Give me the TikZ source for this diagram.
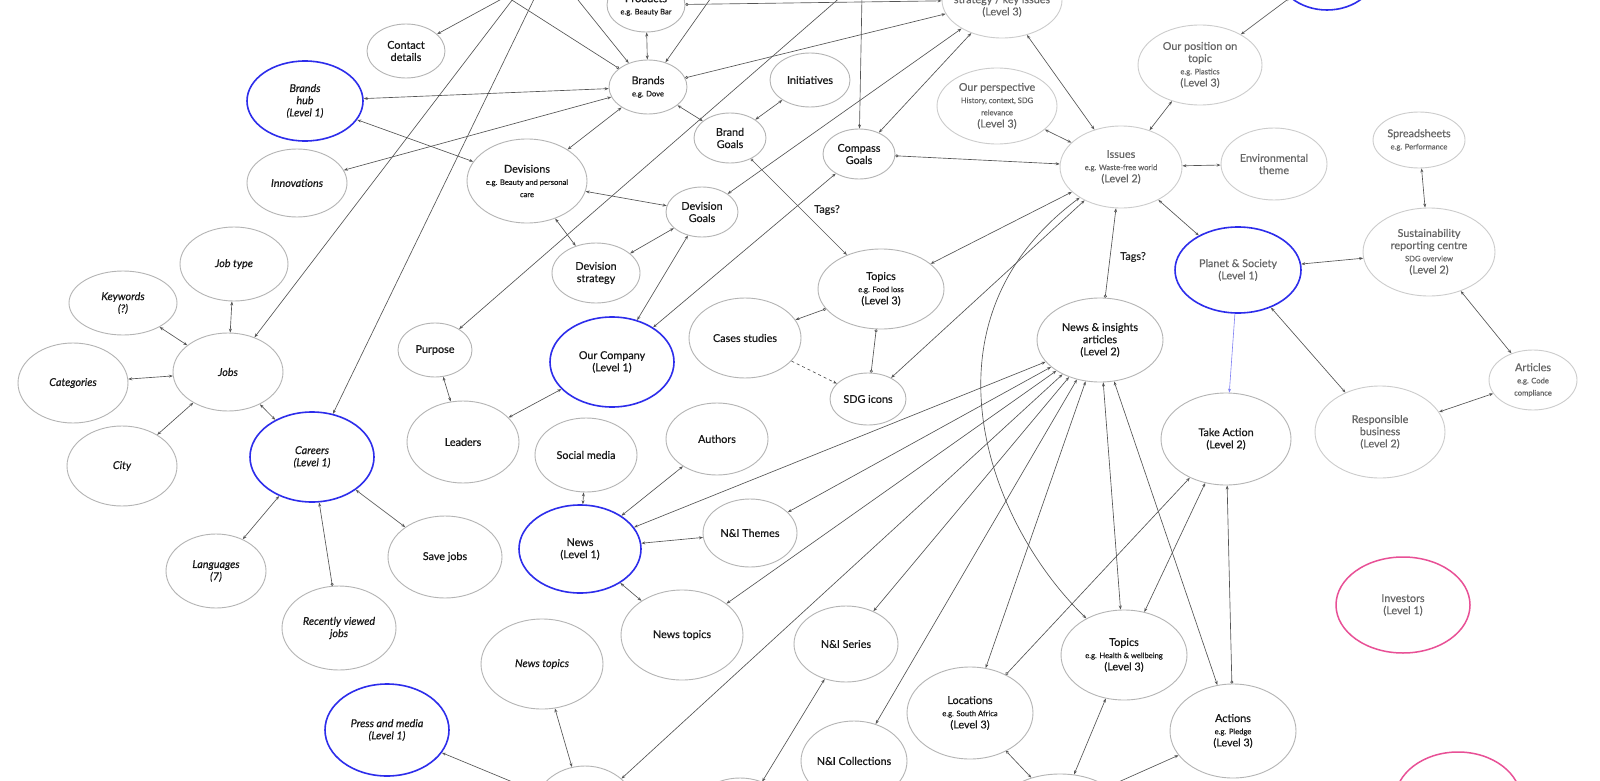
\documentclass[tikz,border=0pt]{standalone}
\usepackage{fontspec}
\setmainfont{Lato}[FakeBold=0.5]
\usetikzlibrary{shapes.geometric,arrows.meta}
\definecolor{lvlblue}{RGB}{45,45,235}
\definecolor{lvlpink}{RGB}{232,80,150}
\definecolor{edgecol}{RGB}{85,85,85}
\definecolor{ring}{RGB}{180,180,180}
\newcommand\mf{\fontsize{10.8}{12.2}\selectfont}
\newcommand\eg{\fontsize{7.6}{9}\selectfont}
\begin{document}
\begin{tikzpicture}[x=1pt,y=-1pt,
 ov/.style={ellipse,draw=ring,line width=0.9pt,inner xsep=-8pt,inner ysep=-4pt,align=center,font=\mf,text=black!90},
 sz/.style 2 args={minimum width=#1pt,minimum height=#2pt},
 lvl/.style={draw=lvlblue,line width=1.6pt},
 pk/.style={draw=lvlpink,line width=1.5pt},
 fd/.style={text=black!60,draw=black!20},
 sl/.style={font=\mf\itshape},
 cn/.style={draw=edgecol,line width=0.65pt},
 ee/.style={cn,{Stealth[length=4pt,width=3pt]}-{Stealth[length=4pt,width=3pt]}},
 oe/.style={cn,{Circle[open,length=3pt,width=3pt]}-{Stealth[length=4pt,width=3pt]}},
 eo/.style={cn,{Stealth[length=4pt,width=3pt]}-{Circle[open,length=3pt,width=3pt]}},
 te/.style={cn,-{Stealth[length=4pt,width=3pt]}},
 lab/.style={font=\mf,text=black!85,inner sep=1pt}
]
\useasboundingbox (0,0) rectangle (1600,781);
\fill[white] (0,0) rectangle (1600,781);
\clip (0,0) rectangle (1600,781);

% ---------- nodes ----------
\node[ov,lvl,sl,sz={116}{80}] (bhub) at (305,101) {Brands\\hub\\(Level 1)};
\node[ov,sl,sz={100}{68}] (innov) at (297,183) {Innovations};
\node[ov,sz={78}{54}] (contact) at (406,51) {Contact\\details};
\node[ov,sz={78}{54}] (products) at (646,5) {Products\\{\eg e.g. Beauty Bar}};
\node[ov,sz={78}{54}] (brands) at (648,87) {Brands\\{\eg e.g. Dove}};
\node[ov,sz={80}{54}] (initiatives) at (810,80) {Initiatives};
\node[ov,sz={72}{50}] (bgoals) at (730,138) {Brand\\Goals};
\node[ov,sz={120}{84}] (devisions) at (527,181) {Devisions\\{\eg e.g. Beauty and personal}\\{\eg care}};
\node[ov,sz={72}{50}] (dgoals) at (702,212) {Devision\\Goals};
\node[ov,sz={88}{60}] (dstrat) at (596,273) {Devision\\strategy};
\node[ov,sz={72}{50}] (compass) at (859,154) {Compass\\Goals};
\node[ov,fd,sz={120}{76}] (topl3) at (1002,0) {Sustainability\\strategy / key issues\\(Level 3)};
\node[ov,fd,sz={120}{76}] (persp) at (997,106) {Our perspective\\{\eg History, context, SDG}\\{\eg relevance}\\(Level 3)};
\node[ov,fd,sz={122}{82}] (issues) at (1121,167) {Issues\\{\eg e.g. Waste-free world}\\(Level 2)};
\node[ov,fd,sz={124}{80}] (position) at (1200,65) {Our position on\\topic\\{\eg e.g. Plastics}\\(Level 3)};
\node[ov,lvl,sz={100}{80}] (topblue) at (1327,-30) {};
\node[ov,fd,sz={106}{72}] (envtheme) at (1274,164) {Environmental\\theme};
\node[ov,fd,sz={92}{56}] (spread) at (1419,140) {Spreadsheets\\{\eg e.g. Performance}};
\node[ov,fd,sz={132}{88}] (src) at (1429,252) {Sustainability\\reporting centre\\{\eg SDG overview}\\(Level 2)};
\node[ov,lvl,sz={126}{86},text=black!60] (planet) at (1238,270) {Planet \& Society\\(Level 1)};
\node[ov,fd,sz={88}{60}] (articles) at (1533,380) {Articles\\{\eg e.g. Code}\\{\eg compliance}};
\node[ov,fd,sz={130}{92}] (resp) at (1380,432) {Responsible\\business\\(Level 2)};
\node[ov,sz={130}{92}] (takeaction) at (1226,439) {Take Action\\(Level 2)};
\node[ov,sz={126}{84}] (nia) at (1100,340) {News \& insights\\articles\\(Level 2)};
\node[ov,sz={126}{80}] (topicsfl) at (881,289) {Topics\\{\eg e.g. Food loss}\\(Level 3)};
\node[ov,sz={76}{52}] (sdg) at (868,399) {SDG icons};
\node[ov,sz={112}{80}] (cases) at (745,338) {Cases studies};
\node[ov,lvl,sz={124}{90}] (ourco) at (612,362) {Our Company\\(Level 1)};
\node[ov,sz={74}{54}] (purpose) at (435,350) {Purpose};
\node[ov,sz={112}{82}] (leaders) at (463,442) {Leaders};
\node[ov,sz={102}{74}] (social) at (586,455) {Social media};
\node[ov,sz={102}{72}] (authors) at (717,439) {Authors};
\node[ov,lvl,sz={122}{88}] (news) at (580,549) {News\\(Level 1)};
\node[ov,sz={94}{68}] (nithemes) at (750,533) {N\&I Themes};
\node[ov,sz={122}{90}] (ntopicsR) at (682,635) {News topics};
\node[ov,sl,sz={122}{90}] (ntopicsL) at (542,664) {News topics};
\node[ov,lvl,sl,sz={124}{92}] (press) at (387,730) {Press and media\\(Level 1)};
\node[ov,sz={104}{92}] (botA) at (585,812) {};
\node[ov,sz={100}{80}] (botB) at (740,818) {};
\node[ov,sz={104}{76}] (nseries) at (846,644) {N\&I Series};
\node[ov,sz={106}{80}] (ncoll) at (854,761) {N\&I Collections};
\node[ov,sz={126}{92}] (locations) at (970,713) {Locations\\{\eg e.g. South Africa}\\(Level 3)};
\node[ov,sz={126}{90}] (topicshw) at (1124,655) {Topics\\{\eg e.g. Health \& wellbeing}\\(Level 3)};
\node[ov,sz={126}{94}] (actions) at (1233,731) {Actions\\{\eg e.g. Pledge}\\(Level 3)};
\node[ov,sz={120}{68}] (botC) at (1060,808) {};
\node[ov,pk,sz={134}{96},text=black!60] (investors) at (1403,605) {Investors\\(Level 1)};
\node[ov,pk,sz={126}{96}] (botpink) at (1458,800) {};
\node[ov,sl,sz={108}{74}] (jobtype) at (234,264) {Job type};
\node[ov,sl,sz={108}{64}] (keywords) at (123,303) {Keywords\\(?)};
\node[ov,sl,sz={110}{80}] (categories) at (73,383) {Categories};
\node[ov,sl,sz={110}{78}] (jobs) at (228,372) {Jobs};
\node[ov,sl,sz={110}{80}] (city) at (122,466) {City};
\node[ov,lvl,sl,sz={124}{90}] (careers) at (312,457) {Careers\\(Level 1)};
\node[ov,sl,sz={100}{74}] (languages) at (216,571) {Languages\\(7)};
\node[ov,sl,sz={114}{84}] (recent) at (339,628) {Recently viewed\\jobs};
\node[ov,sz={114}{82}] (savejobs) at (445,557) {Save jobs};

\node[lab] (tag1) at (827,210) {Tags?};
\node[lab] (tag2) at (1133,257) {Tags?};

% off-canvas ends
\coordinate (cA) at (516,-5);
\coordinate (cB) at (536,-5);
\coordinate (cP) at (843,-5);
\coordinate (cC) at (509,-5);
\coordinate (cBr1) at (504,-5);
\coordinate (cBr2) at (574,-5);
\coordinate (cBr3) at (713,-5);
\coordinate (cCo) at (862,-5);

% ---------- connectors ----------
\draw[ee] (keywords) -- (jobs);
\draw[ee] (categories) -- (jobs);
\draw[ee] (city) -- (jobs);
\draw[ee] (jobtype) -- (jobs);
\draw[ee] (jobs) -- (careers);
\draw[ee] (careers) -- (languages);
\draw[eo] (careers) -- (recent);
\draw[ee] (careers) -- (savejobs);
\draw[te] (cA) -- (jobs);
\draw[te] (cB) -- (careers);
\draw[ee] (bhub) -- (brands);
\draw[ee] (bhub) -- (devisions);
\draw[ee] (innov) -- (brands);
\draw[te] (cC) -- (contact);
\draw[cn,-{Circle[open,length=3pt,width=3pt]}] (cBr1) -- (brands);
\draw[te] (cBr2) -- (brands);
\draw[te] (cBr3) -- (brands);
\draw[ee] (products) -- (brands);
\draw[oe] (products) -- (topl3);
\draw[oe] (brands) -- (topl3);
\draw[ee] (brands) -- (bgoals);
\draw[ee] (bgoals) -- (initiatives);
\draw[ee] (brands) -- (devisions);
\draw[ee] (devisions) -- (dgoals);
\draw[ee] (devisions) -- (dstrat);
\draw[ee] (dstrat) -- (dgoals);
\draw[ee] (dgoals) -- (topl3);
\draw[ee] (dgoals) -- (ourco);
\draw[ee] (compass) -- (ourco);
\draw[ee] (compass) -- (topl3);
\draw[te] (cCo) -- (compass);
\draw[oe] (compass) -- (issues);
\draw[oe] (bgoals) -- (topicsfl);
\draw[te] (cP) -- (purpose);
\draw[ee] (purpose) -- (leaders);
\draw[ee] (leaders) -- (ourco);
\draw[ee] (topl3) -- (issues);
\draw[ee] (persp) -- (issues);
\draw[ee] (issues) -- (position);
\draw[ee] (position) -- (topblue);
\draw[ee] (issues) -- (envtheme);
\draw[ee] (issues) -- (planet);
\draw[ee] (issues) -- (topicsfl);
\draw[ee] (issues) -- (sdg);
\draw[eo] (issues) -- (nia);
\draw[ee] (issues) .. controls (915,320) and (985,520) .. (topicshw);
\draw[eo] (cases) -- (topicsfl);
\draw[cn,{Circle[open,length=3pt,width=3pt]}-{Circle[open,length=3pt,width=3pt]}] (topicsfl) -- (sdg);
\draw[cn,dashed,-{Stealth[length=4pt,width=3pt]}] (cases) -- (sdg);
\draw[ee] (planet) -- (src);
\draw[ee] (spread) -- (src);
\draw[ee] (src) -- (articles);
\draw[ee] (resp) -- (articles);
\draw[ee] (planet) -- (resp);
\draw[draw=lvlblue!60,line width=0.6pt,-{Stealth[length=4pt,width=3pt]}] (planet) -- (takeaction);
\draw[ee] (social) -- (news);
\draw[ee] (authors) -- (news);
\draw[ee] (news) -- (nithemes);
\draw[ee] (news) -- (ntopicsR);
\draw[ee] (news) -- (nia);
\draw[ee] (nithemes) -- (nia);
\draw[ee] (ntopicsR) -- (nia);
\draw[ee] (botA) -- (nia);
\draw[ee] (botA) -- (ntopicsL);
\draw[ee] (botA) -- (press);
\draw[ee] (nseries) -- (nia);
\draw[ee] (nseries) -- (botB);
\draw[ee] (ncoll) -- (nia);
\draw[ee] (locations) -- (nia);
\draw[oe] (locations) -- (takeaction);
\draw[ee] (topicshw) -- (nia);
\draw[ee] (topicshw) -- (takeaction);
\draw[ee] (actions) -- (nia);
\draw[oe] (actions) -- (takeaction);
\draw[ee] (topicshw) -- (botC);
\draw[oe] (locations) -- (botC);
\draw[ee] (actions) -- (botC);
\end{tikzpicture}
\end{document}
